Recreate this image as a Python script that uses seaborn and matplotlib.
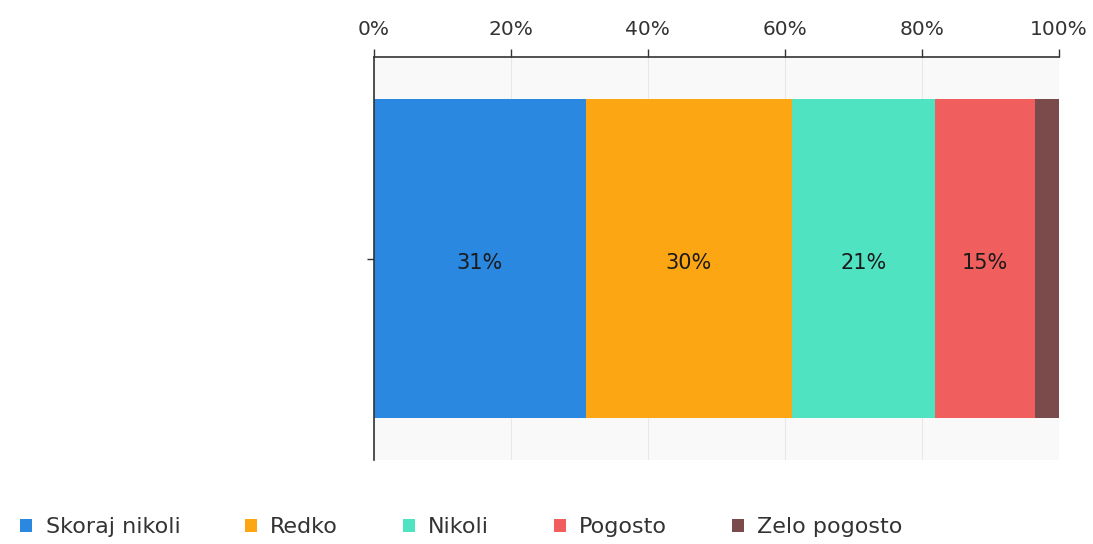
import numpy as np
import pandas as pd
import matplotlib.pyplot as plt
import seaborn as sns
from matplotlib.patches import Patch

categories = ["Skoraj nikoli", "Redko", "Nikoli", "Pogosto", "Zelo pogosto"]
shares = [30.9, 30.1, 20.9, 14.6, 3.5]
bar_labels = ["31%", "30%", "21%", "15%", ""]
colors = ["#2a88e0", "#fda614", "#50e3c2", "#f05e5e", "#7b4b4b"]
tick_values = [0, 20, 40, 60, 80, 100]

sns.set_theme(style="white")
plt.rcParams["font.family"] = ["DejaVu Sans"]

fig = plt.figure(figsize=(10.93, 5.44), dpi=100)
ax = fig.add_axes([0.342, 0.154, 0.627, 0.741])
ax.set_facecolor("#f9f9f9")

cum = np.cumsum(shares)
# draw cumulative bars from the widest so each segment shows through
for i in reversed(range(len(categories))):
    df = pd.DataFrame({"total": [cum[i]], "row": [""]})
    sns.barplot(data=df, x="total", y="row", orient="h", color=colors[i],
                saturation=1, width=0.79, linewidth=0, ax=ax, zorder=2)

starts = cum - np.array(shares)
for s, w, lab in zip(starts, shares, bar_labels):
    if lab:
        ax.text(s + w / 2, 0.01, lab, ha="center", va="center",
                fontsize=15, color="#1a1a1a", zorder=3)

ax.set_xlim(0, 100)
ax.set_ylim(0.5, -0.5)
ax.set_xticks(tick_values)
ax.set_xticklabels([f"{t}%" for t in tick_values], fontsize=14.5, color="#333333")
ax.xaxis.tick_top()
ax.tick_params(axis="x", which="major", length=6, width=1, color="#333333",
               direction="out", pad=7, top=True, bottom=False)
ax.tick_params(axis="y", length=5, width=1, color="#333333", left=True)
ax.set_yticks([0])
ax.set_yticklabels([""])
ax.set_xlabel("")
ax.set_ylabel("")
ax.grid(axis="x", color="#e8e8e8", linewidth=0.8, zorder=0)
ax.set_axisbelow(True)
for side in ["right", "bottom"]:
    ax.spines[side].set_visible(False)
for side in ["top", "left"]:
    ax.spines[side].set_color("#333333")
    ax.spines[side].set_linewidth(1.2)

handles = [Patch(facecolor=c, edgecolor="none") for c in colors]
fig.legend(handles, categories, loc="center left", bbox_to_anchor=(0.0, 0.031),
           ncol=5, frameon=False, fontsize=16, handlelength=0.55, handleheight=0.55,
           handletextpad=0.6, columnspacing=2.9, labelcolor="#333333")

fig.savefig("out.png", dpi=100)
plt.close(fig)
